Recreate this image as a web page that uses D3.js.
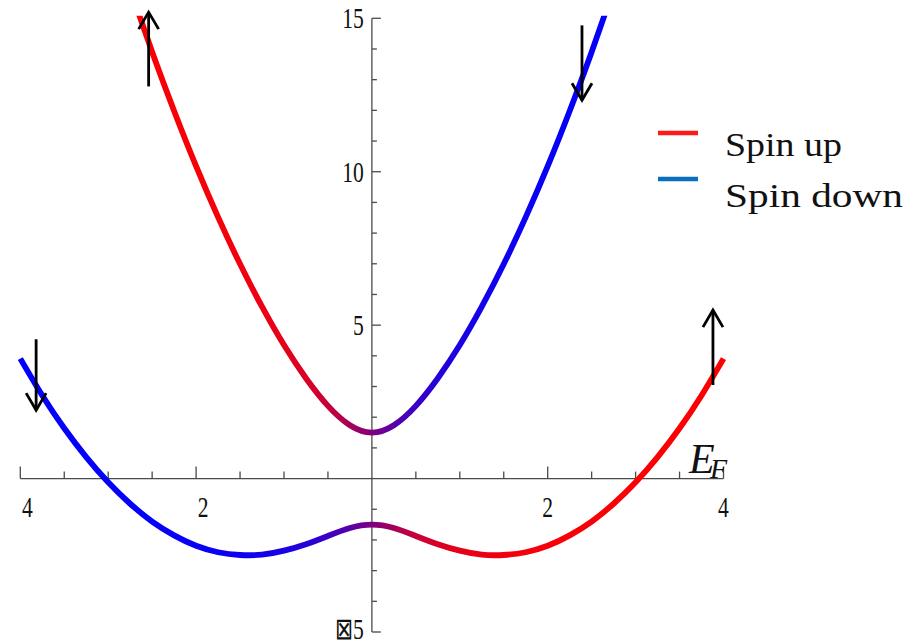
<!DOCTYPE html>
<html>
<head>
<meta charset="utf-8">
<script src="https://cdn.jsdelivr.net/npm/d3@7"></script>
<style>
  html, body { margin: 0; padding: 0; background: #fff; }
  svg { display: block; }
</style>
</head>
<body>
<svg id="chart" width="910" height="644"></svg>
<script>
// Band structure: upper and lower branch, energy vs momentum k
const kUpper = [-2.75, -2.5, -2.25, -2, -1.75, -1.5, -1.25, -1, -0.75, -0.5, -0.25, 0,
                0.25, 0.5, 0.75, 1, 1.25, 1.5, 1.75, 2, 2.25, 2.5, 2.75];
const eUpper = [15.95, 13.90, 11.98, 10.18, 8.52, 6.99, 5.60, 4.35, 3.27, 2.37, 1.74, 1.50,
                1.74, 2.37, 3.27, 4.35, 5.60, 6.99, 8.52, 10.18, 11.98, 13.90, 15.95];

const kLower = [-4, -3.75, -3.5, -3.25, -3, -2.75, -2.5, -2.25, -2, -1.75, -1.5, -1.25, -1,
                -0.75, -0.5, -0.25, 0, 0.25, 0.5, 0.75, 1, 1.25, 1.5, 1.75, 2, 2.25, 2.5,
                2.75, 3, 3.25, 3.5, 3.75, 4];
const eLower = [3.91, 2.71, 1.64, 0.70, -0.12, -0.82, -1.40, -1.85, -2.19, -2.40, -2.49, -2.48, -2.35,
                -2.14, -1.87, -1.61, -1.50, -1.61, -1.87, -2.14, -2.35, -2.48, -2.49, -2.40, -2.19, -1.85, -1.40,
                -0.82, -0.12, 0.70, 1.64, 2.71, 3.91];

// Axis ticks and their printed labels
const xMajor = [-4, -2, 2, 4];
const xMajorLabels = ["4", "2", "2", "4"];
const yMajor = [15, 10, 5, -5];
const yMajorLabels = ["15", "10", "5", "\u22A05"];

// Spin arrows: k position, start energy, tip energy
const arrowK    = [-2.54, 2.39, -3.82, 3.88];
const arrowFrom = [12.78, 14.77, 4.54, 3.05];
const arrowTo   = [15.20, 12.33, 2.23, 5.49];

const legendLabels = ["Spin up", "Spin down"];
const legendColors = ["#ff1a1a", "#0b6fc0"];

const serif = '"Liberation Serif", "Times New Roman", serif';
const svg = d3.select("#chart");

const x = d3.scaleLinear().domain([-4, 4]).range([20.3, 723.5]);
const y = d3.scaleLinear().domain([-5, 15]).range([632, 18.3]);

const defs = svg.append("defs");

defs.append("clipPath").attr("id", "plotClip")
  .append("rect")
  .attr("x", x(-4.05)).attr("y", y(15.08))
  .attr("width", x(4.05) - x(-4.05))
  .attr("height", y(-5) - y(15.08));

// Colour along a branch follows the spin character, which changes with k
const mix = d3.interpolateRgb("#ff0000", "#0000ff");
function blueWeight(k) { return 0.5 + 0.5 * k / Math.sqrt(k * k + 0.6); }
function addGradient(id, flip) {
  const g = defs.append("linearGradient").attr("id", id)
    .attr("gradientUnits", "userSpaceOnUse")
    .attr("x1", x(-4)).attr("x2", x(4)).attr("y1", 0).attr("y2", 0);
  d3.range(-4, 4.001, 0.1).forEach(k => {
    const w = flip ? 1 - blueWeight(k) : blueWeight(k);
    g.append("stop").attr("offset", (k + 4) / 8).attr("stop-color", mix(w));
  });
}
addGradient("gradUpper", false);
addGradient("gradLower", true);

// Axes
const axisColor = "#4a4a4a";
const axes = svg.append("g").attr("stroke", axisColor).attr("stroke-width", 1.3);
axes.append("line").attr("x1", x(-4)).attr("x2", x(4)).attr("y1", y(0)).attr("y2", y(0));
axes.append("line").attr("x1", x(0)).attr("x2", x(0)).attr("y1", y(15)).attr("y2", y(-5));

d3.range(-4, 4.001, 0.5).filter(v => v !== 0).forEach(v => {
  const major = Math.abs(v % 2) < 1e-9;
  axes.append("line")
    .attr("x1", x(v)).attr("x2", x(v))
    .attr("y1", y(0)).attr("y2", y(0) - (major ? 12 : 7));
});
d3.range(-5, 15.001, 1).filter(v => v !== 0).forEach(v => {
  const major = v % 5 === 0;
  axes.append("line")
    .attr("x1", x(0)).attr("x2", x(0) + (major ? 9 : 5))
    .attr("y1", y(v)).attr("y2", y(v));
});

xMajor.forEach((v, i) => {
  const cx = x(v) + (v < 0 ? 7 : 0);
  svg.append("text")
    .attr("transform", `translate(${cx},${y(0) + 38}) scale(0.72,1)`)
    .attr("text-anchor", "middle")
    .style("font-family", serif).attr("font-size", 30)
    .attr("fill", "#111")
    .text(xMajorLabels[i]);
});
yMajor.forEach((v, i) => {
  svg.append("text")
    .attr("transform", `translate(${x(0) - 8},${y(v) + (v < 0 ? 7 : 10)}) scale(0.72,1)`)
    .attr("text-anchor", "end")
    .style("font-family", serif).attr("font-size", 30)
    .attr("fill", "#111")
    .text(yMajorLabels[i]);
});

// Fermi level label
const ef = svg.append("text")
  .attr("x", 689).attr("y", 473)
  .style("font-family", serif).style("font-style", "italic")
  .attr("font-size", 42).attr("fill", "#111");
ef.append("tspan").text("E");
ef.append("tspan").attr("x", 710).attr("y", 478).attr("font-size", 28).text("F");

// Bands
const line = d3.line().x(d => x(d[0])).y(d => y(d[1])).curve(d3.curveNatural);
const bands = svg.append("g").attr("clip-path", "url(#plotClip)");
bands.append("path")
  .attr("d", line(d3.zip(kLower, eLower)))
  .attr("fill", "none").attr("stroke", "url(#gradLower)")
  .attr("stroke-width", 5.8);
bands.append("path")
  .attr("d", line(d3.zip(kUpper, eUpper)))
  .attr("fill", "none").attr("stroke", "url(#gradUpper)")
  .attr("stroke-width", 5.8);

// Spin arrows
const arrows = svg.append("g").attr("stroke", "#000").attr("stroke-width", 2.8)
  .attr("fill", "none").attr("stroke-linecap", "butt");
arrowK.forEach((k, i) => {
  const ax = x(k), y0 = y(arrowFrom[i]), y1 = y(arrowTo[i]);
  const dir = y1 < y0 ? 1 : -1;
  arrows.append("line").attr("x1", ax).attr("x2", ax).attr("y1", y0).attr("y2", y1);
  arrows.append("path")
    .attr("d", `M${ax - 10},${y1 + dir * 17} L${ax},${y1} L${ax + 10},${y1 + dir * 17}`);
});

// Legend
const legendWidths = [117, 178];
legendLabels.forEach((lab, i) => {
  const ly = 133 + i * 46;
  svg.append("line")
    .attr("x1", 658).attr("x2", 698).attr("y1", ly).attr("y2", ly)
    .attr("stroke", legendColors[i]).attr("stroke-width", 4.5);
  svg.append("text")
    .attr("x", 725).attr("y", 156 + i * 51)
    .style("font-family", serif).attr("font-size", 34)
    .attr("fill", "#111")
    .attr("textLength", legendWidths[i]).attr("lengthAdjust", "spacingAndGlyphs")
    .text(lab);
});
</script>
</body>
</html>
